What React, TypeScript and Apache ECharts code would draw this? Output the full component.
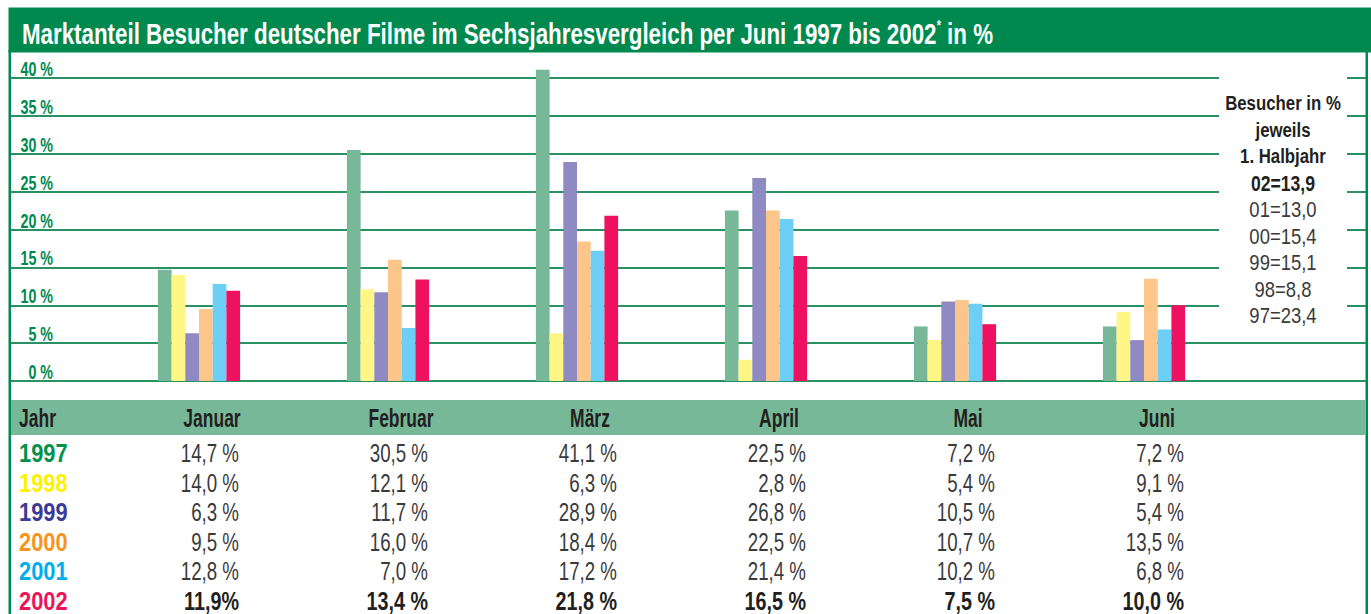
import React, { useEffect, useRef } from 'react';
import * as echarts from 'echarts';

const months = ['Januar', 'Februar', 'März', 'April', 'Mai', 'Juni'];
const years = ['1997', '1998', '1999', '2000', '2001', '2002'];
const v1997 = [14.7, 30.5, 41.1, 22.5, 7.2, 7.2];
const v1998 = [14.0, 12.1, 6.3, 2.8, 5.4, 9.1];
const v1999 = [6.3, 11.7, 28.9, 26.8, 10.5, 5.4];
const v2000 = [9.5, 16.0, 18.4, 22.5, 10.7, 13.5];
const v2001 = [12.8, 7.0, 17.2, 21.4, 10.2, 6.8];
const v2002 = [11.9, 13.4, 21.8, 16.5, 7.5, 10.0];
const yTicks = [0, 5, 10, 15, 20, 25, 30, 35, 40];
const halfYearKeys = ['02', '01', '00', '99', '98', '97'];
const halfYearValues = [13.9, 13.0, 15.4, 15.1, 8.8, 23.4];
const legendHead = ['Besucher in %', 'jeweils', '1. Halbjahr'];
// cells printed without a space before "%": [row, column]
const tightCells = [[5, 0]];

const barColors = ['#76B898', '#FFF685', '#8F8BC2', '#FCC589', '#6DCFF6', '#ED1160'];
const yearColors = ['#00924A', '#FFF200', '#3B3A96', '#F7941D', '#00AEEF', '#ED145B'];
const GREEN = '#00894F';
const FONT = "'Liberation Sans', Arial, sans-serif";

const fmt = (v: number) => v.toFixed(1).replace('.', ',');

function T(text: string, x: number, y: number, o: any) {
  return {
    type: 'text', x, y, z: 101, scaleX: o.sx ?? 0.78,
    style: {
      text, fill: o.fill ?? '#231F20', fontSize: o.size, fontWeight: o.bold ? 'bold' : 'normal',
      fontFamily: FONT, align: o.align ?? 'left', verticalAlign: 'middle', rich: o.rich,
    },
  };
}

export default function App() {
  const ref = useRef<HTMLDivElement>(null);
  useEffect(() => {
    const chart = echarts.init(ref.current!, null, { renderer: 'svg' });
    const seriesData = [v1997, v1998, v1999, v2000, v2001, v2002];
    chart.setOption({
      animation: false,
      grid: [
        { left: 10, right: 5, top: 78, bottom: 233 },
        { left: 104.5, right: 132.5, top: 78, bottom: 233 },
      ],
      xAxis: [
        { type: 'value', gridIndex: 0, min: 0, max: 1, show: false },
        { type: 'category', gridIndex: 1, data: months, show: false },
      ],
      yAxis: [
        {
          type: 'value', gridIndex: 0, min: yTicks[0], max: yTicks[yTicks.length - 1], interval: 5,
          axisLine: { show: false }, axisTick: { show: false }, axisLabel: { show: false },
          splitLine: { lineStyle: { color: '#2A9262', width: 2 } },
        },
        { type: 'value', gridIndex: 1, min: 0, max: 40, show: false },
      ],
      series: years.map((y, i) => ({
        type: 'bar', name: y, xAxisIndex: 1, yAxisIndex: 1, data: seriesData[i],
        barWidth: 13.7, barGap: '0%', clip: false, silent: true,
        itemStyle: { color: barColors[i] },
      })),
    });

    const centers = months.map((m) => chart.convertToPixel({ xAxisIndex: 1 }, m) as number);
    const els: any[] = [];
    // frame
    els.push({ type: 'rect', shape: { x: 8.5, y: 7.5, width: 1362.5, height: 45 }, style: { fill: GREEN }, z: 100 });
    els.push({ type: 'rect', shape: { x: 8.5, y: 50, width: 2.5, height: 564 }, style: { fill: GREEN }, z: 100 });
    els.push({ type: 'rect', shape: { x: 1365.5, y: 50, width: 2.5, height: 564 }, style: { fill: GREEN }, z: 100 });
    els.push(T('Marktanteil Besucher deutscher Filme im Sechsjahresvergleich per Juni 1997 bis 2002{sup|*} in %', 22, 33.5, {
      size: 29, bold: true, fill: '#fff', sx: 0.77,
      rich: { sup: { fontSize: 14, fontWeight: 'bold', fontFamily: FONT, fill: '#fff', verticalAlign: 'top' } },
    }));
    // y tick labels
    yTicks.forEach((t) => {
      const py = chart.convertToPixel({ yAxisIndex: 0 }, t) as number;
      els.push(T(t + ' %', 53, py - 9, { size: 21, bold: true, fill: GREEN, align: 'right', sx: 0.68 }));
    });
    // legend box
    els.push({ type: 'rect', shape: { x: 1219, y: 70, width: 128, height: 262 }, style: { fill: '#fff' }, z: 100 });
    legendHead.forEach((t, i) => {
      els.push(T(t, 1283, 103 + i * 26.5, { size: 21, bold: true, align: 'center', sx: 0.8 }));
    });
    halfYearKeys.forEach((k, i) => {
      els.push(T(k + '=' + fmt(halfYearValues[i]), 1283, 183 + i * 26.5, {
        size: 22, bold: i === 0, fill: i === 0 ? '#231F20' : '#3a3a3a', align: 'center', sx: i === 0 ? 0.8 : 0.84,
      }));
    });
    // table header
    els.push({ type: 'rect', shape: { x: 11, y: 400, width: 1354.5, height: 35 }, style: { fill: '#76B898' }, z: 100 });
    els.push(T('Jahr', 19, 418, { size: 25, bold: true, sx: 0.7 }));
    months.forEach((m, j) => {
      els.push(T(m, centers[j] + 13, 418, { size: 25, bold: true, align: 'center', sx: 0.7 }));
    });
    // table rows
    years.forEach((y, i) => {
      const ry = 453 + i * 29.5;
      els.push(T(y, 19, ry, { size: 26, bold: true, fill: yearColors[i], sx: 0.84 }));
      seriesData[i].forEach((v, j) => {
        const tight = tightCells.some(([r, c]) => r === i && c === j);
        const bold = i === years.length - 1;
        els.push(T(fmt(v) + (tight ? '%' : ' %'), centers[j] + 40, ry, {
          size: 26, bold, fill: bold ? '#231F20' : '#3a3a3a', align: 'right', sx: bold ? 0.76 : 0.72,
        }));
      });
    });
    chart.setOption({ graphic: { elements: els } });
    return () => chart.dispose();
  }, []);
  return <div ref={ref} style={{ position: 'absolute', left: 0, top: 0, width: 1371, height: 614, background: '#fff' }} />;
}
